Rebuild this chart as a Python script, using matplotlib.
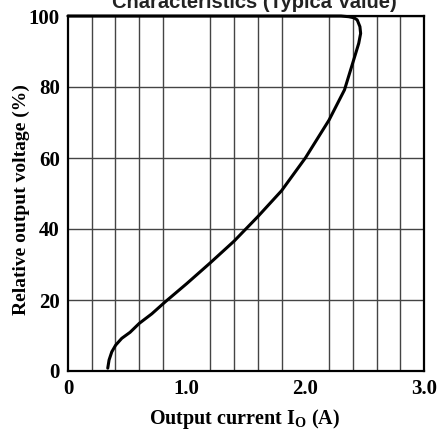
import matplotlib
matplotlib.use('Agg')
from matplotlib import pyplot as plt
import numpy as np

# overcurrent characteristic
current = [0.0, 2.30, 2.366, 2.41, 2.437, 2.46, 2.466, 2.45, 2.42, 2.33, 2.2, 2.0, 1.8,
           1.6, 1.4, 1.2, 1.0, 0.82, 0.706, 0.60, 0.523, 0.453, 0.402, 0.369, 0.346, 0.335]
voltage = [100, 100, 99.8, 99.5, 98.9, 97.0, 95.1, 92.3, 89.0, 79.2, 70.7, 60.0, 50.8,
           43.5, 36.6, 30.5, 24.6, 19.5, 16.1, 13.4, 10.9, 9.2, 7.3, 5.4, 3.1, 0.8]

x_ticks = [0, 1.0, 2.0, 3.0]
x_tick_labels = ['0', '1.0', '2.0', '3.0']
y_ticks = [0, 20, 40, 60, 80, 100]

plt.rcParams['mathtext.fontset'] = 'custom'
plt.rcParams['mathtext.rm'] = 'Liberation Serif:bold'
plt.rcParams['mathtext.bf'] = 'Liberation Serif:bold'

fig = plt.figure(figsize=(4.39, 4.30), dpi=100)
ax = fig.add_axes([68 / 439, 59 / 430, 356 / 439, 355 / 430])

ax.plot(current, voltage, color='black', lw=2.2, clip_on=False, zorder=3,
        solid_joinstyle='round', solid_capstyle='round')

ax.set_xlim(0, 3.0)
ax.set_ylim(0, 100)
ax.set_xticks(x_ticks)
ax.set_xticklabels(x_tick_labels)
ax.set_xticks(np.arange(0, 3.01, 0.2), minor=True)
ax.set_yticks(y_ticks)
ax.grid(which='minor', axis='x', color='#444444', lw=1.0)
ax.grid(which='major', axis='y', color='#444444', lw=1.0)
ax.tick_params(which='both', length=0, pad=6)
for lab in ax.get_xticklabels() + ax.get_yticklabels():
    lab.set_fontfamily('Liberation Serif')
    lab.set_fontweight('bold')
    lab.set_fontsize(15)
for sp in ax.spines.values():
    sp.set_linewidth(1.6)

ax.set_xlabel(r'Output current I$_{\mathregular{O}}$ (A)', family='Liberation Serif',
              fontweight='bold', fontsize=14.5, va='baseline')
ax.xaxis.set_label_coords(0.497, -0.150)
ax.set_ylabel('Relative output voltage (%)', family='Liberation Serif',
              fontweight='bold', fontsize=14, va='center')
ax.yaxis.set_label_coords(-0.130, 0.482)

fig.text(254 / 439, 1 - 7.5 / 430, 'Characteristics (Typica Value)', ha='center',
         va='baseline', family='Liberation Sans', fontweight='bold', fontsize=14.5,
         color='#222222')

fig.savefig('out.png', dpi=100)
